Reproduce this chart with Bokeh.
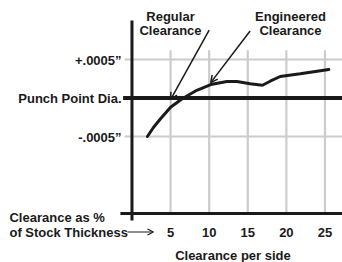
from bokeh.plotting import figure
from bokeh.models import Label, Arrow, OpenHead, Range1d
from bokeh.core.properties import value
from bokeh.embed import file_html
from bokeh.resources import INLINE

# ---- data ----
clearance_pct = [2.0, 2.8, 3.7, 5.0, 6.5, 8.4, 10.2, 12.3, 13.6, 15.3, 16.9, 17.9, 19.2, 21.8, 25.5]
hole_dev = [-0.0005, -0.00038, -0.00027, -0.00012, -0.00001, 0.0001, 0.000175, 0.000214,
            0.000214, 0.000184, 0.000166, 0.000218, 0.000279, 0.000314, 0.00037]
x_ticks = [5, 10, 15, 20, 25]
x_tick_labels = ["5", "10", "15", "20", "25"]
y_ticks = [-0.0005, 0.0, 0.0005]
y_tick_labels = ["-.0005\u201d", "Punch Point Dia.", "+.0005\u201d"]

FONT = "Liberation Sans"
INK = "#1a1a1a"
GRID = "#cccccc"
FS = "13px"

p = figure(width=342, height=262, output_backend="svg", toolbar_location=None,
           x_range=Range1d(-17.03, 27.27), y_range=Range1d(-0.0021364, 0.0012662),
           min_border=0, outline_line_color=None,
           background_fill_color="white", border_fill_color="white")
p.xaxis.visible = False
p.yaxis.visible = False
p.xgrid.visible = False
p.ygrid.visible = False

X_AXIS_Y = -0.0015

# grid lines
p.segment(x0=x_ticks, y0=[X_AXIS_Y] * len(x_ticks), x1=x_ticks, y1=[0.00062] * len(x_ticks),
          line_color=GRID, line_width=2.2)
side = [t for t in y_ticks if t != 0]
p.segment(x0=[-0.95] * len(side), y0=side, x1=[28] * len(side), y1=side,
          line_color=GRID, line_width=2.2)

# axes
p.segment(x0=[0], y0=[-0.00159], x1=[0], y1=[0.001006], line_color=INK, line_width=3)
p.segment(x0=[-1.5], y0=[X_AXIS_Y], x1=[28], y1=[X_AXIS_Y], line_color=INK, line_width=3)

# punch point line
p.segment(x0=[-1.15], y0=[0.0], x1=[28], y1=[0.0], line_color=INK, line_width=4)

# curve
p.line(clearance_pct, hole_dev, line_color=INK, line_width=3, line_cap="round")

txt_kw = dict(text_font=value(FONT), text_font_style="bold", text_font_size=FS,
              text_color=INK, text_baseline="middle")

# tick labels
p.text(x=x_ticks, y=[-0.001743] * len(x_ticks), text=x_tick_labels, text_align="center", **txt_kw)
p.text(x=[-1.35] * len(y_ticks), y=[t - 0.00001 for t in y_ticks], text=y_tick_labels,
       text_align="right", **txt_kw)

lab_kw = dict(text_font=FONT, text_font_style="bold", text_font_size=FS,
              text_color=INK, text_baseline="middle")

for txt, x, y, al in [("Regular", 4.99, 0.00106, "center"), ("Clearance", 4.99, 0.00088, "center"),
                      ("Engineered", 20.53, 0.00106, "center"), ("Clearance", 20.53, 0.00088, "center"),
                      ("Clearance per side", 13.08, -0.002045, "center"),
                      ("Clearance as %", -15.87, -0.001555, "left"),
                      ("of Stock Thickness", -15.87, -0.001743, "left")]:
    p.add_layout(Label(x=x, y=y, text=txt, text_align=al, **lab_kw))

p.add_layout(Arrow(end=OpenHead(size=7, line_width=1.5, line_color=INK),
                   x_start=10.0, y_start=0.00088, x_end=5.0, y_end=-0.00002,
                   line_width=1.5, line_color=INK))
p.add_layout(Arrow(end=OpenHead(size=7, line_width=1.5, line_color=INK),
                   x_start=15.3, y_start=0.00087, x_end=10.2, y_end=0.0002,
                   line_width=1.5, line_color=INK))
p.add_layout(Arrow(end=OpenHead(size=6, line_width=1.2, line_color=INK),
                   x_start=-0.58, y_start=-0.00174, x_end=2.78, y_end=-0.00174,
                   line_width=1.2, line_color=INK))

open("out.html", "w").write(file_html(p, INLINE))
